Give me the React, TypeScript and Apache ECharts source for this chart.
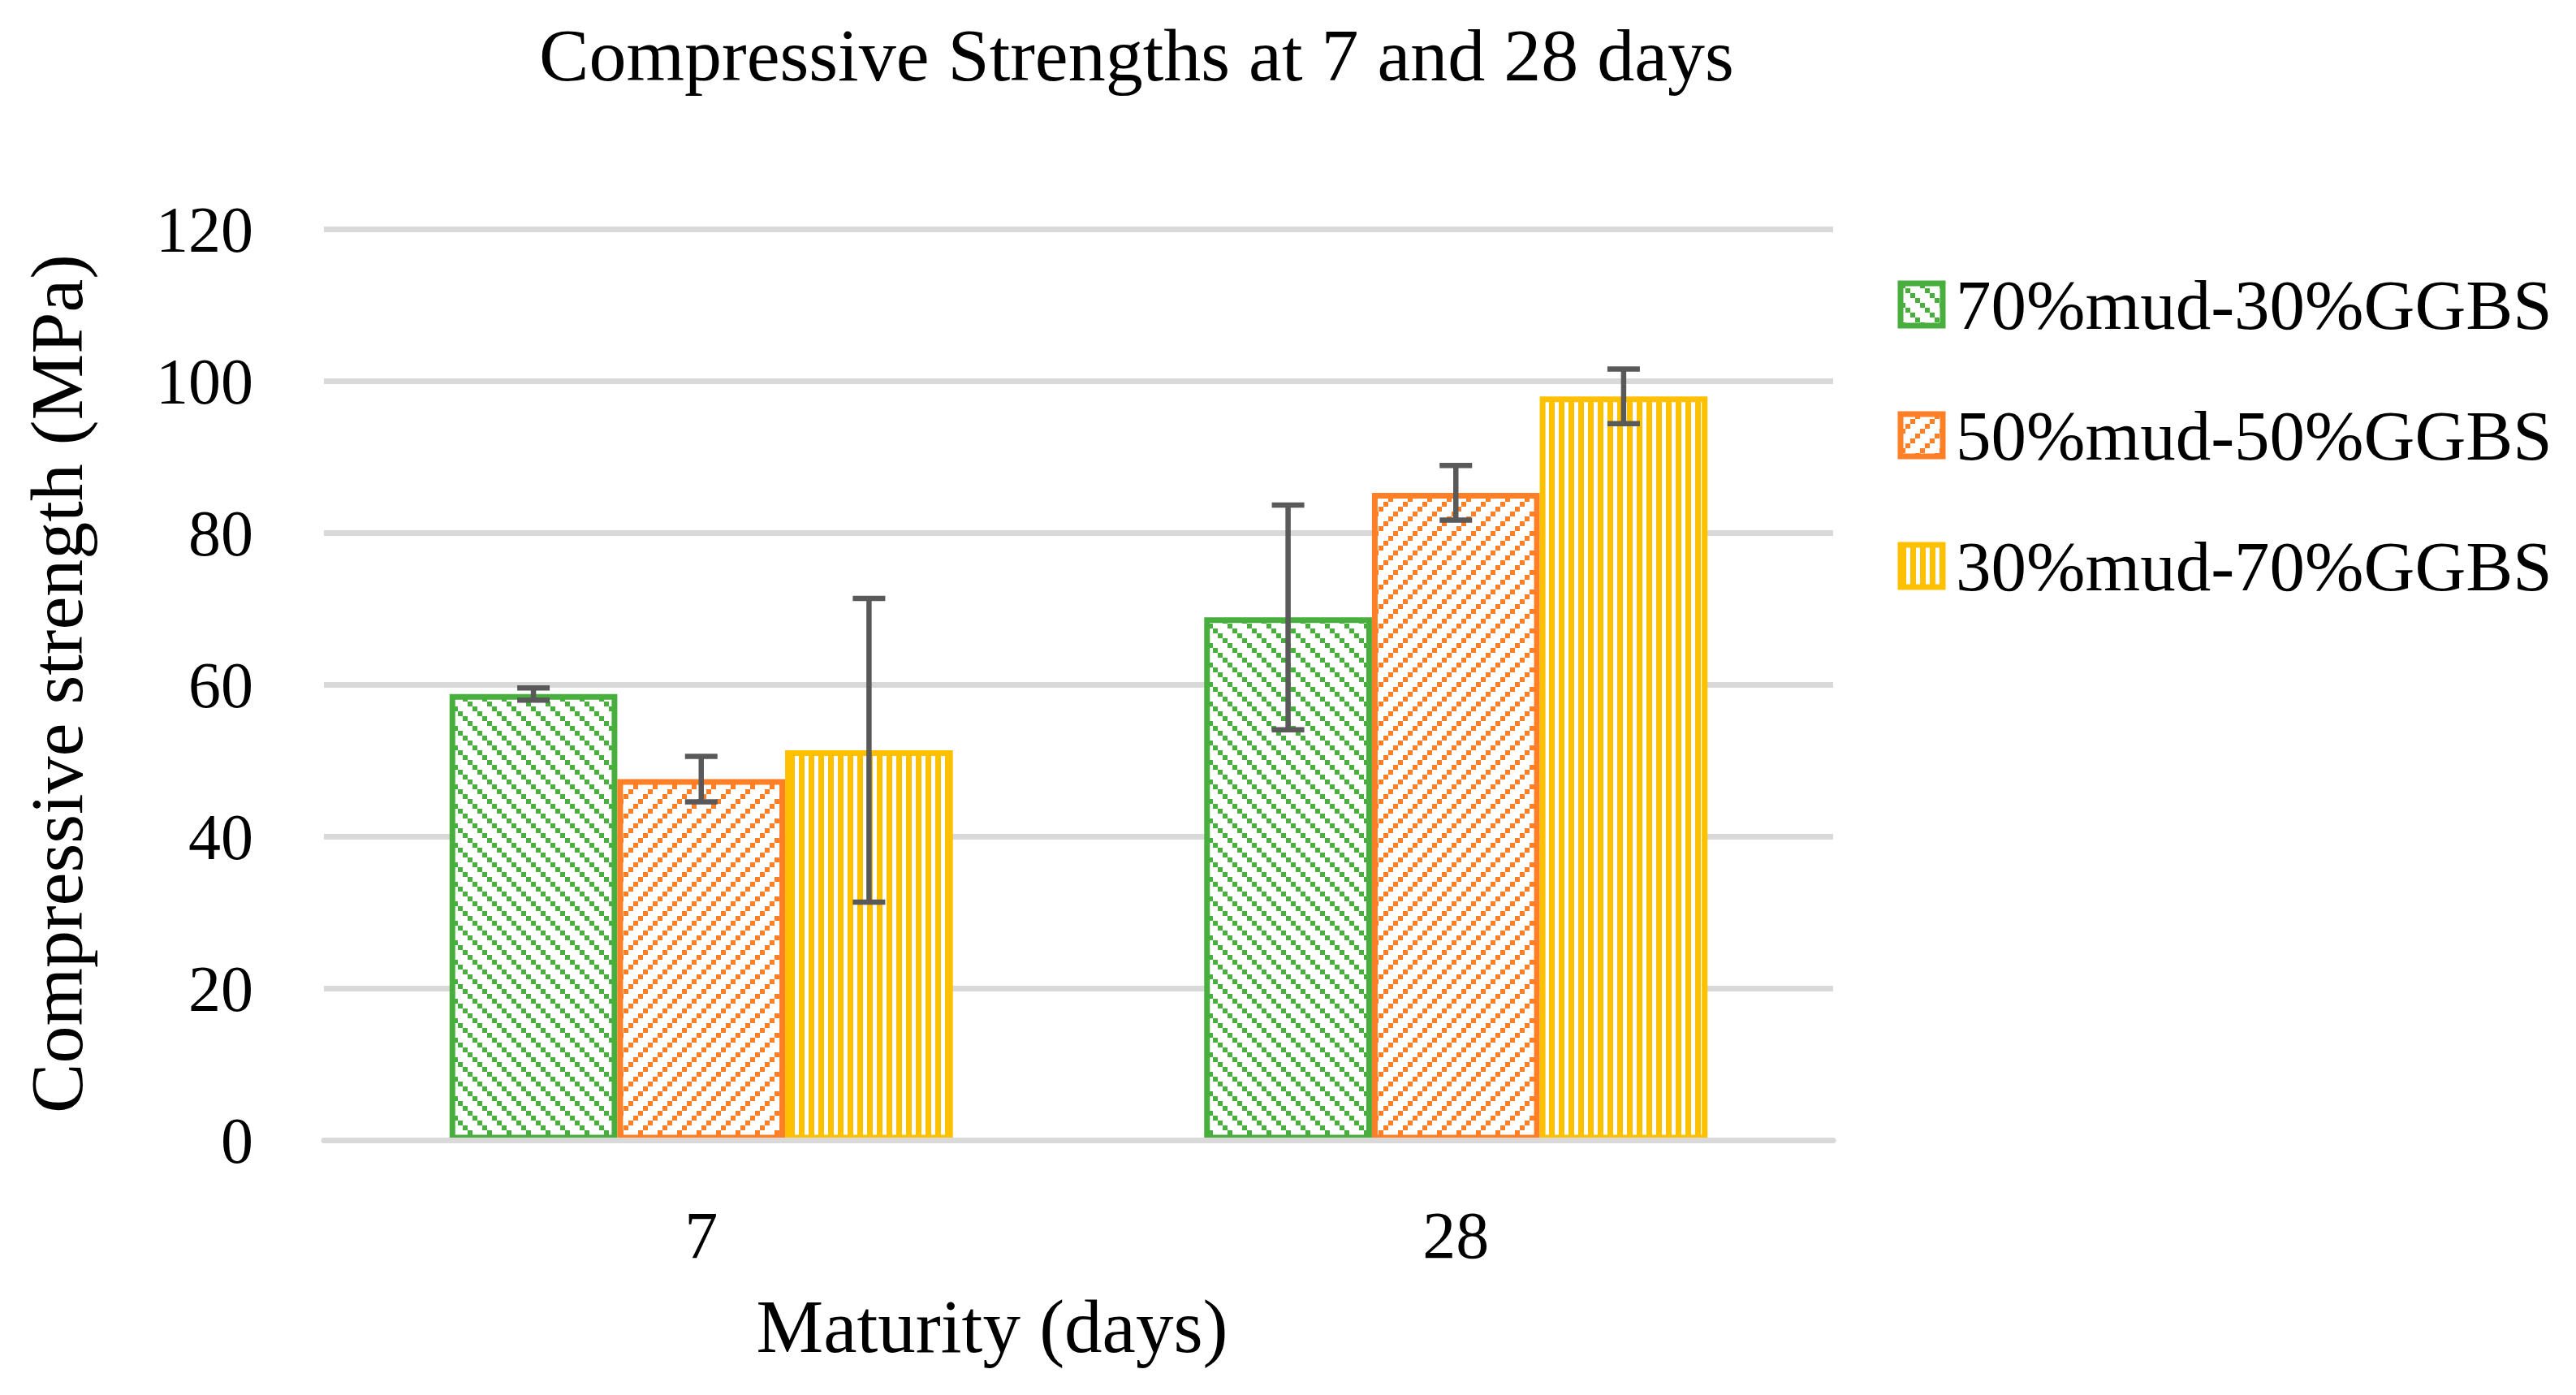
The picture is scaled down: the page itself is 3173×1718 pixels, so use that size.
import React, { useEffect, useRef } from "react";
import * as echarts from "echarts";

const categories = ["7", "28"];
const seriesNames = ["70%mud-30%GGBS", "50%mud-50%GGBS", "30%mud-70%GGBS"];
const values70mud = [58.8, 68.9];
const values50mud = [47.6, 85.3];
const values30mud = [51.4, 98.0];
const errors70mud = [0.8, 14.8];
const errors50mud = [3.0, 3.6];
const errors30mud = [20.0, 3.6];
const yTicks = { min: 0, max: 120, interval: 20 };
const titleText = "Compressive Strengths at 7 and 28 days";
const xAxisName = "Maturity (days)";
const yAxisName = "Compressive strength (MPa)";

const COLORS = ["#48AE3D", "#FF7F27", "#FFC000"];
const FONT = "'Liberation Serif', 'Times New Roman', serif";
const GAP = 0.333;

function makeTile(w: number, h: number, draw: (ctx: CanvasRenderingContext2D) => void) {
  const c = document.createElement("canvas");
  c.width = w;
  c.height = h;
  const ctx = c.getContext("2d")!;
  ctx.fillStyle = "#ffffff";
  ctx.fillRect(0, 0, w, h);
  draw(ctx);
  return { image: c, repeat: "repeat", imageWidth: w, imageHeight: h } as any;
}

export default function App() {
  const ref = useRef<HTMLDivElement>(null);
  useEffect(() => {
    document.body.style.margin = "0";
    if (!ref.current) return;
    const chart = echarts.init(ref.current, null, { renderer: "svg" });

    const greenPat = makeTile(24, 24, (ctx) => {
      ctx.fillStyle = COLORS[0];
      for (let i = 0; i < 4; i++) ctx.fillRect(6 * i, 6 * i, 6, 6);
    });
    const orangePat = makeTile(24, 24, (ctx) => {
      ctx.fillStyle = COLORS[1];
      for (let i = 0; i < 4; i++) ctx.fillRect(18 - 6 * i, 6 * i, 6, 6);
    });
    const yellowPat = makeTile(12, 12, (ctx) => {
      ctx.fillStyle = COLORS[2];
      ctx.fillRect(0, 0, 7, 12);
    });
    const patterns = [greenPat, orangePat, yellowPat];
    const allValues = [values70mud, values50mud, values30mud];
    const allErrors = [errors70mud, errors50mud, errors30mud];

    const barSeries = seriesNames.map((name, s) => ({
      name,
      type: "bar",
      data: allValues[s],
      barGap: "0%",
      barCategoryGap: GAP * 100 + "%",
      itemStyle: { color: patterns[s], borderColor: COLORS[s], borderWidth: 7 },
      z: 2,
    }));

    const errData: number[][] = [];
    allValues.forEach((vals, s) => {
      vals.forEach((v, c) => errData.push([c, v, allErrors[s][c], s]));
    });

    const errorSeries = {
      type: "custom",
      name: "error",
      data: errData,
      encode: { x: 0, y: 1 },
      z: 4,
      silent: true,
      renderItem: (params: any, api: any) => {
        const c = api.value(0);
        const v = api.value(1);
        const e = api.value(2);
        const s = api.value(3);
        const band = api.size([1, 0])[0];
        const barW = (band * (1 - GAP)) / 3;
        const center = api.coord([c, v]);
        const x = center[0] + (s - 1) * barW;
        const yTop = api.coord([c, v + e])[1];
        const yBot = api.coord([c, v - e])[1];
        const st = { stroke: "#595959", lineWidth: 6.5 };
        const hw = 20;
        return {
          type: "group",
          children: [
            { type: "line", shape: { x1: x, y1: yTop, x2: x, y2: yBot }, style: st },
            { type: "line", shape: { x1: x - hw, y1: yTop, x2: x + hw, y2: yTop }, style: st },
            { type: "line", shape: { x1: x - hw, y1: yBot, x2: x + hw, y2: yBot }, style: st },
          ],
        };
      },
    };

    chart.setOption({
      animation: false,
      backgroundColor: "#ffffff",
      grid: { left: 399, right: 915, top: 282.5, bottom: 313.5, containLabel: false },
      legend: {
        data: seriesNames,
        orient: "vertical",
        left: 2337.5,
        top: 331.5,
        padding: 0,
        itemWidth: 52,
        itemHeight: 52,
        itemGap: 74,
        icon: "rect",
        itemStyle: { borderWidth: 7 },
        textStyle: { fontFamily: FONT, fontSize: 87, color: "#000000", padding: [0, 0, 0, 11] },
      },
      xAxis: {
        type: "category",
        data: categories,
        z: 5,
        axisLine: { show: true, lineStyle: { color: "#d9d9d9", width: 7 } },
        axisTick: { show: false },
        axisLabel: { fontFamily: FONT, fontSize: 82, color: "#000000", margin: 76 },
      },
      yAxis: {
        type: "value",
        min: yTicks.min,
        max: yTicks.max,
        interval: yTicks.interval,
        axisLine: { show: false },
        axisTick: { show: false },
        splitLine: { lineStyle: { color: "#d9d9d9", width: 7 } },
        axisLabel: { fontFamily: FONT, fontSize: 80, color: "#000000", margin: 87 },
      },
      graphic: [
        {
          type: "text",
          x: 1400,
          y: 68,
          style: { text: titleText, fontFamily: FONT, fontSize: 92, fill: "#000000", align: "center", verticalAlign: "middle" },
        },
        {
          type: "text",
          x: 1222,
          y: 1633,
          style: { text: xAxisName, fontFamily: FONT, fontSize: 93, fill: "#000000", align: "center", verticalAlign: "middle" },
        },
        {
          type: "text",
          x: 70,
          y: 842,
          rotation: Math.PI / 2,
          style: { text: yAxisName, fontFamily: FONT, fontSize: 92, fill: "#000000", align: "center", verticalAlign: "middle" },
        },
      ],
      series: [...barSeries, errorSeries],
    });
    return () => chart.dispose();
  }, []);
  return <div ref={ref} style={{ width: 3173, height: 1718 }} />;
}
